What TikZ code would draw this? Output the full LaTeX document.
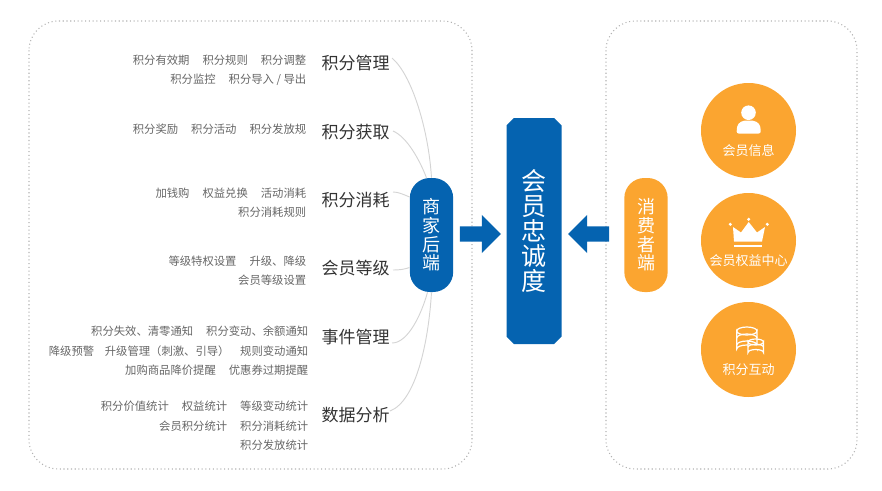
\documentclass[tikz,border=0pt]{standalone}
\usepackage{fontspec}
\setmainfont{Noto Sans CJK SC}
\usetikzlibrary{shapes.misc, shapes.arrows}

\definecolor{bizblue}{HTML}{0563B0}
\definecolor{custorange}{HTML}{FBA530}
\newcommand{\gp}{\hspace{9.75pt}}

\tikzset{
panel/.style={draw=black!30, line width=.8pt, dotted, rounded corners=22pt},
head/.style={anchor=east, inner sep=0pt, text=black!80, font=\fontsize{12.75}{14}\selectfont},
items/.style={anchor=east, inner sep=0pt, align=right, text=black!60, font=\fontsize{8.5}{14.4}\selectfont},
pill/.style={rounded corners=15pt, minimum width=32.5pt, minimum height=85.5pt, inner sep=0pt, align=center, text=white, font=\fontsize{13.5}{14}\selectfont},
blockarrow/.style={single arrow, single arrow head extend=8.66pt, inner sep=5.475pt, minimum height=30.75pt, fill=bizblue},
badge/.style={circle, fill=custorange, minimum size=71.25pt, inner sep=0pt},
badgetext/.style={inner sep=0pt, text=white, font=\fontsize{9.75}{11}\selectfont},
link/.style={draw=black!17, line width=.7pt}
}

\begin{document}
\begin{tikzpicture}[x=.75pt, y=-.75pt]

\useasboundingbox (0,0) rectangle (882,490);

\draw[panel] (29,21) rectangle (472,469);
\draw[panel] (606,21) rectangle (857,469);

\node[pill, fill=bizblue] (hub) at (431.5,235) {商\\家\\后\\端};
\node[pill, fill=custorange] (cust) at (646,235) {消\\费\\者\\端};

\node[chamfered rectangle, chamfered rectangle xsep=2.8pt, chamfered rectangle ysep=2.8pt, fill=bizblue, minimum width=41.25pt, minimum height=169.5pt, inner sep=0pt, align=center, text=white, font=\fontsize{18.75}{18.75}\selectfont] (loyal) at (534,231) {会\\员\\忠\\诚\\度};

\node[blockarrow, anchor=tail] (arrowl) at (459.7,234) {};
\node[blockarrow, shape border rotate=180, anchor=tail] (arrowr) at (609.3,234) {};

\node[head] (manage) at (390,63) {积分管理};
\node[head] (earn) at (390,132) {积分获取};
\node[head] (spend) at (390,200) {积分消耗};
\node[head] (level) at (390,268) {会员等级};
\node[head] (event) at (390,337) {事件管理};
\node[head] (data) at (390,415) {数据分析};

\node[items] (manageitems) at (306.5,70.2) {积分有效期\gp 积分规则\gp 积分调整\\积分监控\gp 积分导入 / 导出};
\node[items] (earnitems) at (306.5,128.7) {积分奖励\gp 积分活动\gp 积分发放规};
\node[items] (spenditems) at (306.5,203) {加钱购\gp 权益兑换\gp 活动消耗\\积分消耗规则};
\node[items] (levelitems) at (306.5,271) {等级特权设置\gp 升级、降级\\会员等级设置};
\node[items, font=\fontsize{8.5}{14.7}\selectfont] (eventitems) at (308.5,351) {积分失效、清零通知\gp 积分变动、余额通知\\降级预警\hspace{8pt}升级管理（刺激、引导）\hspace{8pt}规则变动通知\\加购商品降价提醒\gp 优惠券过期提醒};
\node[items, font=\fontsize{8.5}{14.6}\selectfont] (dataitems) at (308.5,426) {积分价值统计\gp 权益统计\gp 等级变动统计\\会员积分统计\gp 积分消耗统计\\积分发放统计};

\draw[link] (manage.east) ++(2,-5) .. controls +(20,17) and +(-3,-48) .. (hub.north);
\draw[link] (earn.east) ++(3,-1) .. controls +(14,6) and +(-7,-18) .. (hub.95);
\draw[link] (spend.east) ++(3,-8) .. controls +(5,0) and +(-7,-3) .. (hub.120);
\draw[link] (level.east) ++(3,2) .. controls +(6,0) and +(-6,2) .. (hub.236);
\draw[link] (event.east) ++(2,6) .. controls +(16,0) and +(-6,22) .. (hub.-94);
\draw[link] (data.east) ++(0,-4) .. controls +(26,-10) and +(-3,50) .. (hub.south);

\node[badge] (info) at (748.5,130.5) {};
\node[badge] (rights) at (748.5,240.5) {};
\node[badge] (inter) at (748.5,349.5) {};

\node[badgetext] (infotext) at (748.5,150.5) {会员信息};
\node[badgetext] (rightstext) at (748.5,260.5) {会员权益中心};
\node[badgetext] (intertext) at (748.5,369.5) {积分互动};

\fill[white] (748.5,112.7) circle (7.3);
\fill[white, rounded corners=1.5pt] (736.7,133.5) -- (736.7,129) .. controls (738,122) and (743,120.5) .. (748.5,120.5) .. controls (754,120.5) and (759.5,122) .. (760.7,129) -- (760.7,133.5) -- cycle;

\fill[white] (733,227) -- (741,232.5) -- (748.7,222) -- (757,232.5) -- (765,227) -- (762,241.5) -- (734,241.5) -- cycle;
\fill[white] (734,244.5) rectangle (762,246.5);
\foreach \x/\y in {730.3/224.3, 748.7/219.3, 767.3/224.3}
\fill[white] (\x,\y) circle (1.7);

\draw[white, line width=.9pt] (736.7,331) arc[start angle=180, end angle=0, x radius=10.15, y radius=4] -- (757,349) arc[start angle=0, end angle=-180, x radius=10.15, y radius=4] -- cycle;
\draw[white, line width=.9pt] (736.7,331) arc[start angle=180, end angle=360, x radius=10.15, y radius=4];
\draw[white, line width=.9pt] (736.7,338) arc[start angle=180, end angle=360, x radius=10.15, y radius=4];
\draw[white, line width=.9pt] (736.7,345) arc[start angle=180, end angle=360, x radius=10.15, y radius=4];
\draw[white, fill=custorange, line width=.9pt] (748,342) arc[start angle=180, end angle=0, x radius=7.75, y radius=3] -- (763.5,352.5) arc[start angle=0, end angle=-180, x radius=7.75, y radius=3] -- cycle;
\draw[white, line width=.9pt] (748,342) arc[start angle=180, end angle=360, x radius=7.75, y radius=3];
\draw[white, line width=.9pt] (748,347.2) arc[start angle=180, end angle=360, x radius=7.75, y radius=3];

\end{tikzpicture}
\end{document}
